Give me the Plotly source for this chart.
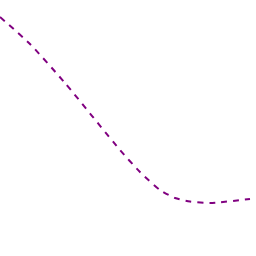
import plotly.graph_objects as go

x_vals = [0, 30, 65, 120, 140, 160, 175, 190, 210, 250]
y_vals = [239, 212, 173, 106, 84, 66, 58, 54.5, 53, 57]

fig = go.Figure()
fig.add_trace(go.Scatter(
    x=x_vals, y=y_vals, mode="lines",
    line=dict(color="#800080", width=2, dash="6px,6px", shape="spline", smoothing=0.6),
    hoverinfo="skip",
))
fig.update_layout(
    width=256, height=256,
    margin=dict(l=0, r=0, t=0, b=0),
    paper_bgcolor="white", plot_bgcolor="white",
    showlegend=False,
    xaxis=dict(range=[0, 256], visible=False, fixedrange=True),
    yaxis=dict(range=[0, 256], visible=False, fixedrange=True),
)
fig.write_html("out.html", config={"displayModeBar": False})
